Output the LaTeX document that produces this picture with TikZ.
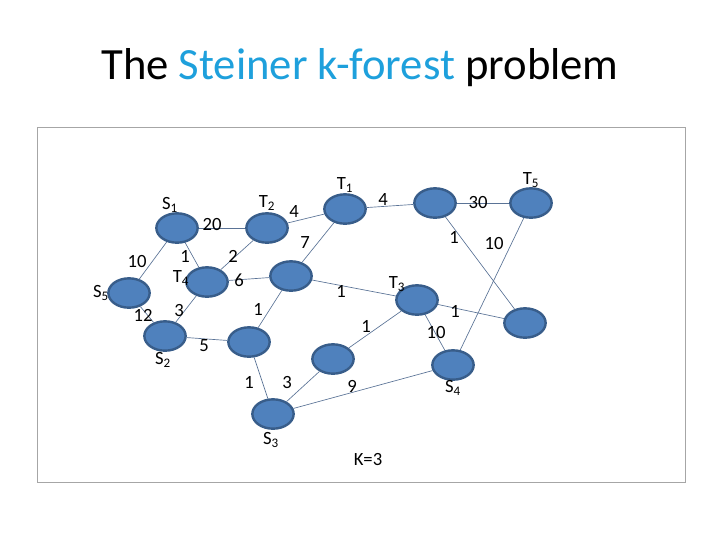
\documentclass[tikz,border=0pt]{standalone}
\usepackage{fontspec}
\setmainfont{Carlito}
\usepackage{xcolor}
\definecolor{nodefill}{RGB}{79,129,189}
\definecolor{nodeline}{RGB}{56,93,138}
\definecolor{edgecol}{RGB}{90,115,150}
\definecolor{titleblue}{RGB}{30,160,220}
\usetikzlibrary{shapes.geometric}
\tikzset{
  vtx/.style={ellipse,fill=nodefill,draw=nodeline,line width=1.8pt,minimum width=31pt,minimum height=22pt,inner sep=0pt},
  lbl/.style={inner sep=0pt,font=\fontsize{14}{16}\selectfont},
  wt/.style={inner sep=0pt,font=\fontsize{14}{16}\selectfont},
  edge/.style={draw=edgecol,line width=0.5pt}
}
\begin{document}
\begin{tikzpicture}[x=0.75pt,y=0.75pt,yscale=-1,xscale=1]
\useasboundingbox (0,0) rectangle (720,540);
% frame and title
\draw[gray!70,line width=0.6pt] (37,127) rectangle (685,482);
\node (title) at (360,68) {\fontsize{33.5}{38}\selectfont The \textcolor{titleblue}{Steiner k-forest} problem};
% vertices
\node[vtx] (s1) at (177,228) {};
\node[vtx] (t2) at (267,228) {};
\node[vtx] (t1) at (345,209) {};
\node[vtx] (t4) at (207,282) {};
\node[vtx] (s5) at (129,293) {};
\node[vtx] (s2) at (165,336) {};
\node[vtx] (m) at (291,276) {};
\node[vtx] (n) at (249,342) {};
\node[vtx] (s3) at (273,414) {};
\node[vtx] (p) at (333,359) {};
\node[vtx] (a) at (435,203) {};
\node[vtx] (t5) at (531,203) {};
\node[vtx] (t3) at (417,300) {};
\node[vtx] (r) at (525,323) {};
\node[vtx] (s4) at (453,365) {};
% edges
\foreach \u/\v in {s1/t2,t2/t1,s1/s5,s1/t4,t4/t2,t4/m,m/t1,m/t3,s5/s2,s2/t4,s2/n,n/m,n/s3,s3/p,p/t3,s3/s4,t1/a,a/t5,a/r,t5/s4,t3/r,t3/s4}
  \draw[edge] (\u) -- (\v);
% vertex labels
\node[lbl] (ls1) at (170,205) {S\textsubscript{1}};
\node[lbl] (lt2) at (267,203) {T\textsubscript{2}};
\node[lbl] (lt1) at (345,185) {T\textsubscript{1}};
\node[lbl] (lt5) at (531,180) {T\textsubscript{5}};
\node[lbl] (lt3) at (397,284) {T\textsubscript{3}};
\node[lbl] (lt4) at (181,278) {T\textsubscript{4}};
\node[lbl] (ls5) at (101,293) {S\textsubscript{5}};
\node[lbl] (ls2) at (163,360) {S\textsubscript{2}};
\node[lbl] (ls3) at (271,440) {S\textsubscript{3}};
\node[lbl] (ls4) at (453,388) {S\textsubscript{4}};
\node[lbl] (k) at (368,459) {K=3};
% weights
\foreach \x/\y/\w in {212/224/20,294/211/4,137/261/10,185/256/1,233/256/2,239/280/6,305/243/7,143/315/12,179/310/3,258/309/1,204/346/5,341/291/1,366/326/1,249/382/1,287/382/3,352/386/9,383/200/4,478/202/30,454/237/1,494/243/10,455/311/1,436/332/10}
  \node[wt] at (\x,\y) {\w};
\end{tikzpicture}
\end{document}
